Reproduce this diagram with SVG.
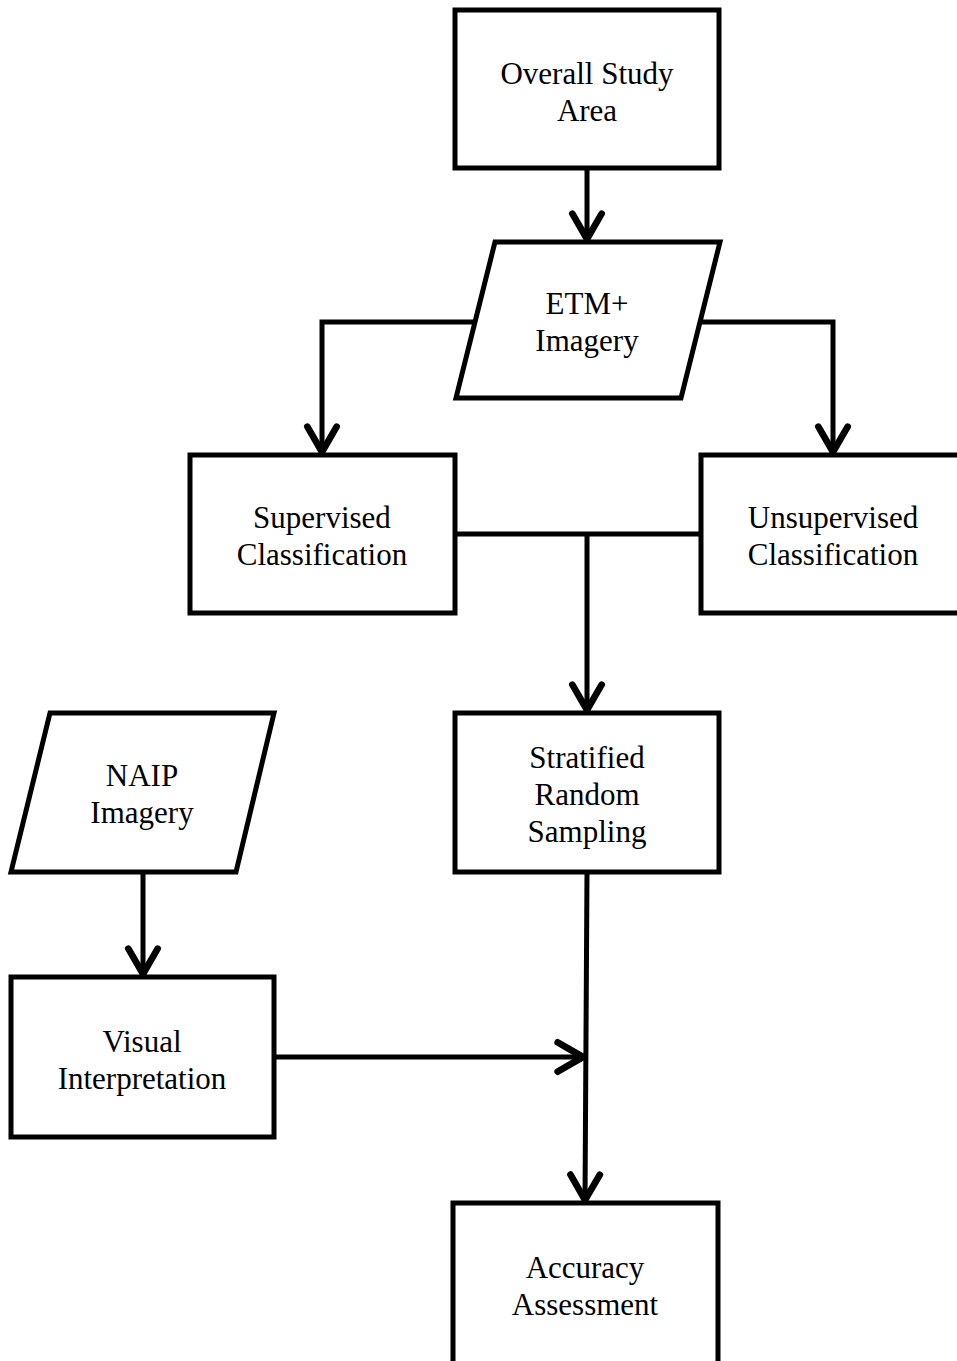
<svg xmlns="http://www.w3.org/2000/svg" width="957" height="1361" viewBox="0 0 957 1361">
<style>
.box{fill:#fff;stroke:#000;stroke-width:5;stroke-linejoin:miter}
.t{font-family:"Liberation Serif","Times New Roman",serif;font-size:31px;fill:#000;text-anchor:middle}
.c{fill:none;stroke:#000;stroke-width:5;stroke-linejoin:miter}
</style>
<defs>
<marker id="arr" markerUnits="userSpaceOnUse" markerWidth="40" markerHeight="40" viewBox="-25 -15 30 30" refX="0" refY="0" orient="auto" overflow="visible">
<path d="M-19,-11 L0,0 L-19,11" fill="none" stroke="#000" stroke-width="5" stroke-linecap="round" stroke-linejoin="round"/>
</marker>
</defs>
<rect width="957" height="1361" fill="#fff"/>
<g id="connectors">
<path class="c" d="M587,168 L587,239" marker-end="url(#arr)"/>
<path class="c" d="M475,322 L322,322 L322,452" marker-end="url(#arr)"/>
<path class="c" d="M700,322 L833,322 L833,452" marker-end="url(#arr)"/>
<path class="c" d="M455,534 L700,534"/>
<path class="c" d="M587,534 L587,710" marker-end="url(#arr)"/>
<path class="c" d="M143,872 L143,974" marker-end="url(#arr)"/>
<path class="c" d="M275,1057 L583,1057" marker-end="url(#arr)"/>
<path class="c" d="M587,872 L585,1200" marker-end="url(#arr)"/>
</g>
<g id="overall">
<rect class="box" x="455" y="10" width="264" height="158"/>
<text class="t" x="587" y="84">Overall Study</text>
<text class="t" x="587" y="121">Area</text>
</g>
<g id="etm">
<polygon class="box" points="495,242 720,242 681,398 456,398"/>
<text class="t" x="587" y="314">ETM+</text>
<text class="t" x="587" y="351">Imagery</text>
</g>
<g id="supervised">
<rect class="box" x="190" y="455" width="265" height="158"/>
<text class="t" x="322" y="528">Supervised</text>
<text class="t" x="322" y="565">Classification</text>
</g>
<g id="unsupervised">
<rect class="box" x="701" y="455" width="265" height="158"/>
<text class="t" x="833" y="528">Unsupervised</text>
<text class="t" x="833" y="565">Classification</text>
</g>
<g id="stratified">
<rect class="box" x="455" y="713" width="264" height="159"/>
<text class="t" x="587" y="768">Stratified</text>
<text class="t" x="587" y="805">Random</text>
<text class="t" x="587" y="842">Sampling</text>
</g>
<g id="naip">
<polygon class="box" points="50,713 274,713 236,872 11,872"/>
<text class="t" x="142" y="786">NAIP</text>
<text class="t" x="142" y="823">Imagery</text>
</g>
<g id="visual">
<rect class="box" x="11" y="977" width="263" height="160"/>
<text class="t" x="142" y="1052">Visual</text>
<text class="t" x="142" y="1089">Interpretation</text>
</g>
<g id="accuracy">
<rect class="box" x="453" y="1203" width="265" height="165"/>
<text class="t" x="585" y="1278">Accuracy</text>
<text class="t" x="585" y="1315">Assessment</text>
</g>
</svg>
